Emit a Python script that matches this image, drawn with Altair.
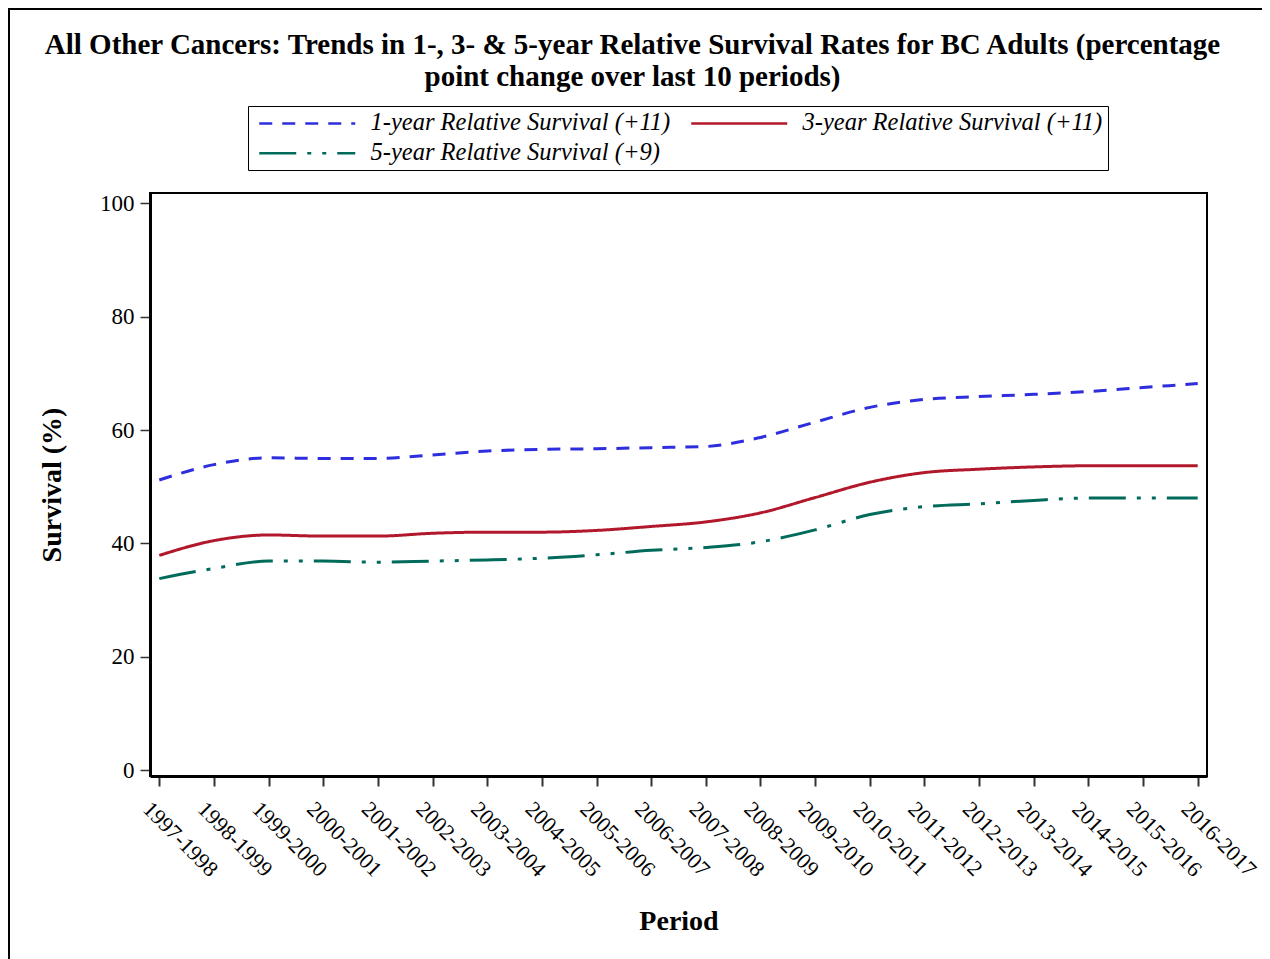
import altair as alt
import pandas as pd

periods = ["1997-1998", "1998-1999", "1999-2000", "2000-2001", "2001-2002",
           "2002-2003", "2003-2004", "2004-2005", "2005-2006", "2006-2007",
           "2007-2008", "2008-2009", "2009-2010", "2010-2011", "2011-2012",
           "2012-2013", "2013-2014", "2014-2015", "2015-2016", "2016-2017"]

series_names = ["1-year Relative Survival (+11)",
                "3-year Relative Survival (+11)",
                "5-year Relative Survival (+9)"]

one_year = [51.2, 53.9, 55.1, 55.0, 55.0, 55.6, 56.3, 56.6, 56.7, 56.9,
            57.1, 58.7, 61.4, 64.0, 65.4, 65.9, 66.3, 66.8, 67.5, 68.2]
three_year = [37.9, 40.5, 41.5, 41.3, 41.3, 41.8, 42.0, 42.0, 42.3, 43.0,
              43.8, 45.4, 48.1, 50.8, 52.5, 53.1, 53.5, 53.7, 53.7, 53.7]
five_year = [33.8, 35.6, 36.9, 36.9, 36.7, 36.9, 37.1, 37.4, 38.0, 38.8,
             39.3, 40.3, 42.4, 45.1, 46.5, 47.0, 47.6, 48.0, 48.0, 48.0]

colors = ["#2E2EDE", "#B2182B", "#006A5B"]
dashes = [[13, 10], [1, 0], [37, 11, 4, 11, 4, 11]]

rows = []
for name, vals in zip(series_names, [one_year, three_year, five_year]):
    for p, v in zip(periods, vals):
        rows.append({"Period": p, "Survival": v, "Series": name})
df = pd.DataFrame(rows)

FONT = "Liberation Serif"

lines = alt.Chart(df).mark_line(strokeWidth=3, interpolate="monotone").encode(
    x=alt.X("Period:O", sort=periods,
            scale=alt.Scale(type="point", padding=0.17),
            axis=alt.Axis(title="Period", labelAngle=45, labelFont=FONT,
                          labelFontSize=22, labelColor="black",
                          labelPadding=12, labelOffset=-6,
                          tickSize=10, tickColor="#333",
                          tickWidth=2, domainColor="black", domainWidth=3,
                          titleFont=FONT, titleFontSize=28,
                          titleFontWeight="bold", titleColor="black",
                          titlePadding=27, labelAlign="left",
                          labelBaseline="top")),
    y=alt.Y("Survival:Q",
            scale=alt.Scale(domain=[-1, 101.8], nice=False, zero=False),
            axis=alt.Axis(title="Survival (%)", values=[0, 20, 40, 60, 80, 100],
                          labelFont=FONT, labelFontSize=23,
                          labelColor="black", labelPadding=6,
                          tickSize=10, tickColor="#333", tickWidth=1.5,
                          domainColor="black", domainWidth=3, grid=False,
                          titleFont=FONT, titleFontSize=28,
                          titleFontWeight="bold", titleColor="black",
                          titlePadding=33)),
    color=alt.Color("Series:N", sort=series_names,
                    scale=alt.Scale(domain=series_names, range=colors),
                    legend=alt.Legend(title=None, orient="none",
                                      direction="horizontal",
                                      legendX=98, legendY=-87,
                                      columns=2, columnPadding=14,
                                      rowPadding=5,
                                      symbolType="M-1,0H15", symbolSize=144,
                                      symbolStrokeWidth=2.5,
                                      labelFont=FONT, labelFontSize=24.5,
                                      labelFontStyle="italic",
                                      labelColor="black", labelOffset=93,
                                      labelLimit=500,
                                      strokeColor="black", padding=5)),
    strokeDash=alt.StrokeDash("Series:N", sort=series_names,
                              scale=alt.Scale(domain=series_names,
                                              range=dashes),
                              legend=None),
)

left_border = alt.Chart(df).mark_rule(color="black", strokeWidth=2).encode(
    x=alt.value(-141), y=alt.value(-185), y2=alt.value(766))
top_border = alt.Chart(df).mark_rule(color="black", strokeWidth=2).encode(
    x=alt.value(-141), x2=alt.value(1130), y=alt.value(-184))

chart = alt.layer(left_border, top_border, lines).properties(
    width=1057, height=583,
    background="white",
    autosize=alt.AutoSizeParams(type="none"),
    padding={"left": 142, "top": 185, "right": 55, "bottom": 183},
    title=alt.Title(
        ["All Other Cancers: Trends in 1-, 3- & 5-year Relative Survival Rates for BC Adults (percentage",
         "point change over last 10 periods)"],
        font=FONT, fontSize=29, fontWeight="bold", color="black",
        anchor="middle", frame="group", dx=-46, offset=-85, lineHeight=32),
).configure_view(stroke="black", strokeWidth=2)

chart.save("out.html", embed_options={"renderer": "svg", "actions": False})
